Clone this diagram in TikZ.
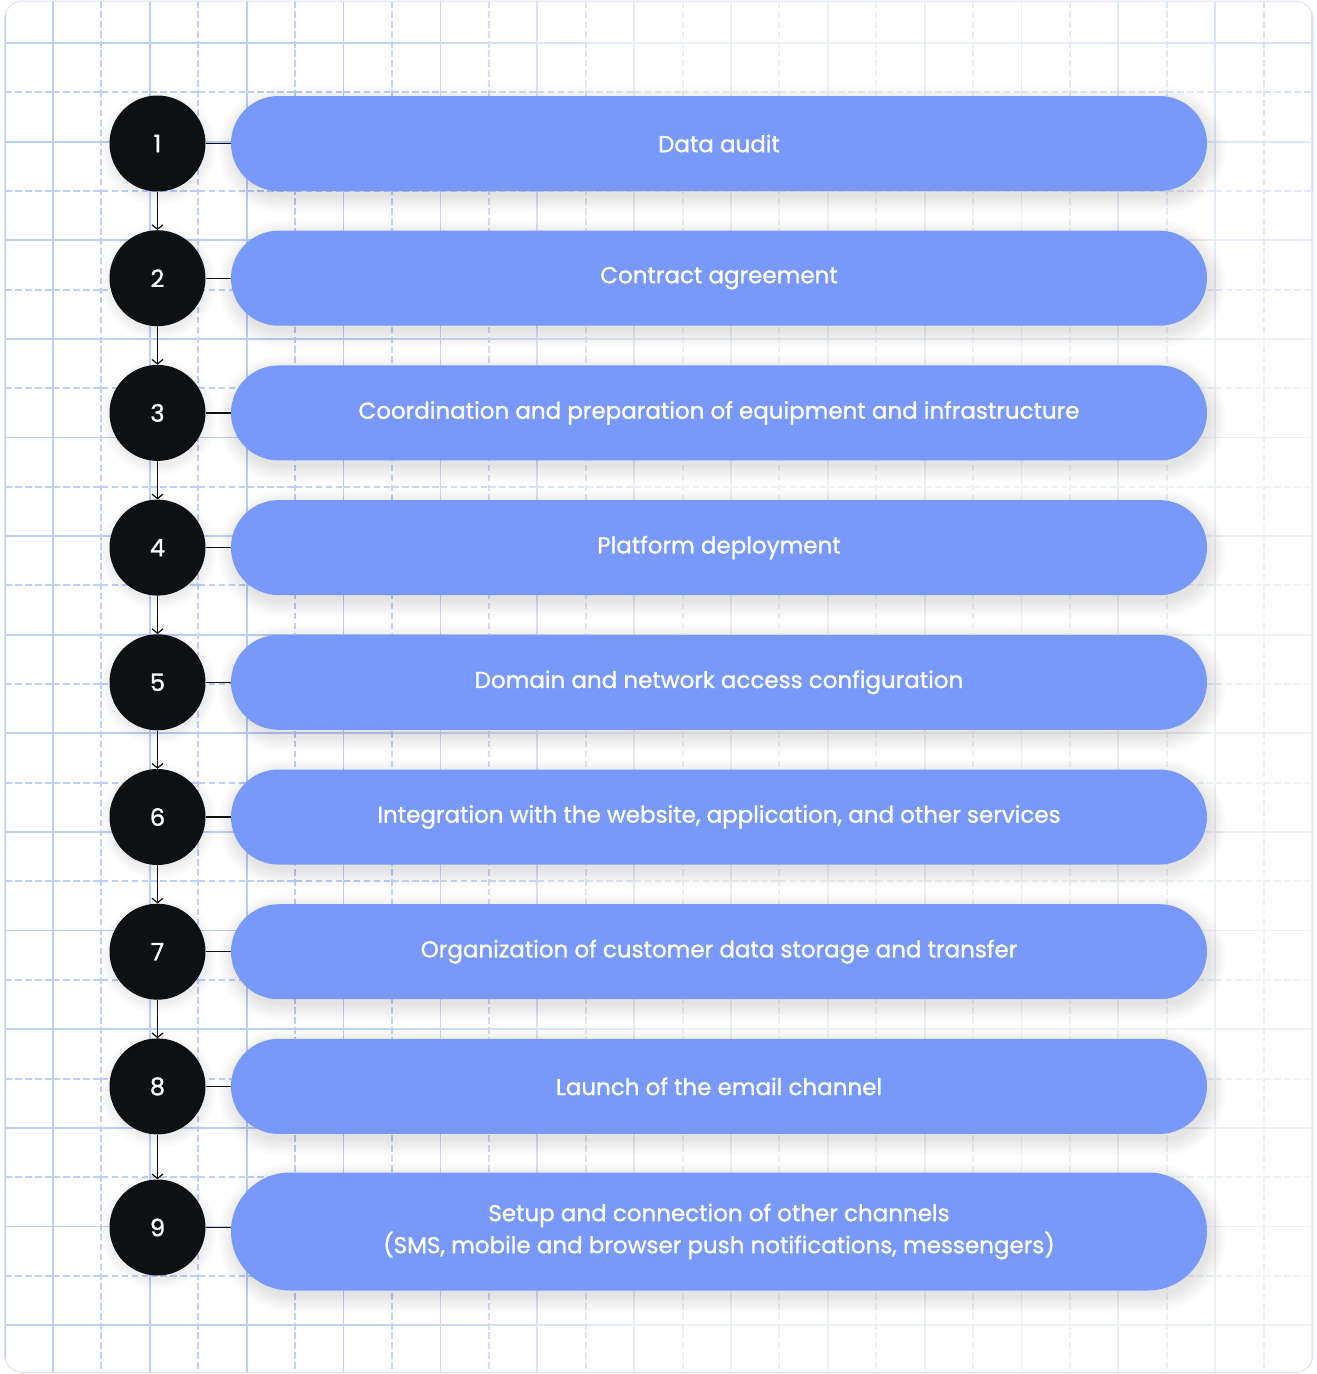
\documentclass[tikz,border=0pt]{standalone}
\usepackage{fontspec}
\setmainfont{Poppins}
\newfontfamily\medfont{Poppins}[FakeBold=1.1]
\usetikzlibrary{arrows.meta}
\definecolor{gridblue}{HTML}{BDCFFA}
\definecolor{gridgray}{HTML}{EDF0F5}
\definecolor{pillblue}{HTML}{7899FA}
\definecolor{dotblack}{HTML}{0E1114}
\definecolor{framecol}{HTML}{DCE2F0}
\begin{document}
\begin{tikzpicture}[x=1pt,y=-1pt,
  gridsolid/.style={line width=1.8pt},
  griddash/.style={line width=2pt, dash pattern=on 6.5pt off 3.5pt},
  stepnum/.style={circle, fill=dotblack, minimum size=96pt, inner sep=0pt, text=white,
    font=\medfont\fontsize{24}{24}\selectfont},
  pillbox/.style={rectangle, rounded corners=47.5pt, fill=pillblue, minimum width=976pt,
    minimum height=95pt, inner sep=0pt, text=white, align=center,
    font=\medfont\fontsize{23}{32}\selectfont},
  tallpill/.style={pillbox, rounded corners=59pt, minimum height=118pt},
  shadowlayer/.style={fill=black, opacity=0.011},
  link/.style={line width=1.2pt, draw=dotblack},
  flowarrow/.style={line width=1.2pt, draw=dotblack, -{Straight Barb[length=4.5pt,width=11pt]}}
]
\useasboundingbox (0,0) rectangle (1317,1374);
\fill[white] (0,0) rectangle (1317,1374);
\begin{scope}
\clip[rounded corners=18pt] (4.5,1) rectangle (1313,1372.5);
% horizontal lines
\foreach \i in {0,...,13}{
  \foreach \j in {0,...,26}{
    \pgfmathsetmacro\xa{5+48.425*\j}
    \pgfmathsetmacro\xb{\xa+48.425}
    \pgfmathsetmacro\xm{\xa+24.2}
    \pgfmathsetmacro\ys{43+98.62*\i}
    \pgfmathsetmacro\yd{92.3+98.62*\i}
    \pgfmathsetmacro\sa{max(0,min(100,(680-\xm)/3.4))}
    \pgfmathsetmacro\sb{max(0,50*(1-veclen((\xm-1317)/100,\ys/100)/3.6))}
    \pgfmathsetmacro\sc{min(100,\sa+\sb)}
    \pgfmathsetmacro\sd{max(0,50*(1-veclen((\xm-1317)/100,\yd/100)/3.6))}
    \pgfmathsetmacro\se{min(100,\sa+\sd)}
    \draw[gridsolid, color=gridblue!\sc!gridgray] (\xa,\ys) -- (\xb,\ys);
    \draw[griddash, color=gridblue!\se!gridgray] (\xa,\yd) -- (\xb,\yd);
  }
}
% vertical lines
\foreach \i in {-1,0,...,13}{
  \foreach \j in {0,...,27}{
    \pgfmathsetmacro\ya{1+49.31*\j}
    \pgfmathsetmacro\yb{\ya+49.31}
    \pgfmathsetmacro\ym{\ya+24.6}
    \pgfmathsetmacro\xs{53+96.85*\i}
    \pgfmathsetmacro\xd{101.4+96.85*\i}
    \pgfmathsetmacro\sa{max(0,min(100,(680-\xs)/3.4))}
    \pgfmathsetmacro\sb{max(0,50*(1-veclen((\xs-1317)/100,\ym/100)/3.6))}
    \pgfmathsetmacro\sc{min(100,\sa+\sb)}
    \pgfmathsetmacro\sf{max(0,min(100,(680-\xd)/3.4))}
    \pgfmathsetmacro\sd{max(0,50*(1-veclen((\xd-1317)/100,\ym/100)/3.6))}
    \pgfmathsetmacro\se{min(100,\sf+\sd)}
    \ifnum\i=-1
      \draw[gridsolid, color=gridblue] (5,\ya) -- (5,\yb);
    \else
      \draw[gridsolid, color=gridblue!\sc!gridgray] (\xs,\ya) -- (\xs,\yb);
      \ifnum\i<13
        \draw[griddash, color=gridblue!\se!gridgray] (\xd,\ya) -- (\xd,\yb);
      \fi
    \fi
  }
}
\end{scope}
\draw[framecol, line width=1pt, rounded corners=18pt] (4.5,1) rectangle (1313,1372.5);

% soft shadows
\foreach \yc/\h in {143.5/95,278.2/95,412.9/95,547.6/95,682.3/95,817/95,951.7/95,1086.4/95,1231.5/118}{
  \foreach \r in {0,2,...,16}{
    \pgfmathsetmacro\rc{\h/2+\r}
    \fill[shadowlayer, rounded corners=\rc pt]
      (231+3-\r,\yc-\h/2+6-\r) rectangle (1207+3+\r,\yc+\h/2+6+\r);
  }
}
\foreach \yc in {143.5,278.2,412.9,547.6,682.3,817,951.7,1086.4,1227.5}{
  \foreach \r in {0,2,...,10}{
    \fill[shadowlayer] (158.5,\yc+4) circle[radius=48+\r];
  }
}

% pills
\node[pillbox] (p1) at (719,143.5) {Data audit};
\node[pillbox] (p2) at (719,278.2) {Contract agreement};
\node[pillbox] (p3) at (719,412.9) {Coordination and preparation of equipment and infrastructure};
\node[pillbox] (p4) at (719,547.6) {Platform deployment};
\node[pillbox] (p5) at (719,682.3) {Domain and network access configuration};
\node[pillbox] (p6) at (719,817) {Integration with the website, application, and other services};
\node[pillbox] (p7) at (719,951.7) {Organization of customer data storage and transfer};
\node[pillbox] (p8) at (719,1086.4) {Launch of the email channel};
\node[tallpill] (p9) at (719,1231.5) {Setup and connection of other channels\\(SMS, mobile and browser push notifications, messengers)};

% circles
\node[stepnum] (c1) at (157.5,143.5) {1};
\node[stepnum] (c2) at (157.5,278.2) {2};
\node[stepnum] (c3) at (157.5,412.9) {3};
\node[stepnum] (c4) at (157.5,547.6) {4};
\node[stepnum] (c5) at (157.5,682.3) {5};
\node[stepnum] (c6) at (157.5,817) {6};
\node[stepnum] (c7) at (157.5,951.7) {7};
\node[stepnum] (c8) at (157.5,1086.4) {8};
\node[stepnum] (c9) at (157.5,1227.5) {9};

% connectors
\foreach \k in {1,...,8}{
  \draw[link] (c\k) -- (p\k);
}
\draw[link] (c9.east) -- (c9.east -| p9.west);
\foreach \k/\n in {1/2,2/3,3/4,4/5,5/6,6/7,7/8,8/9}{
  \draw[flowarrow] (c\k) -- (c\n);
}
\end{tikzpicture}
\end{document}
